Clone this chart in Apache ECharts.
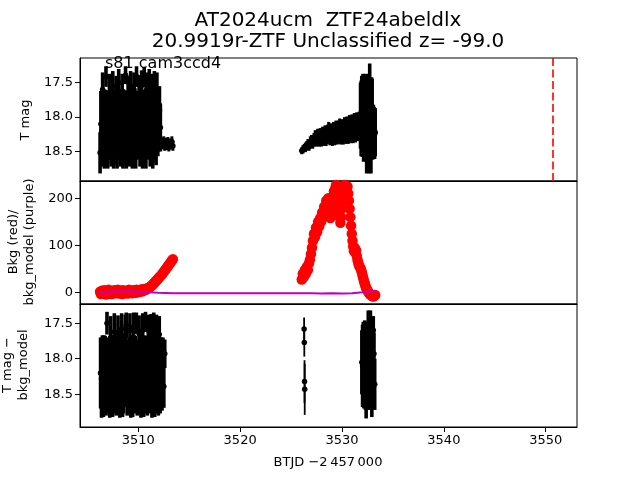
<!DOCTYPE html>
<html><head><meta charset="utf-8">
<script src="https://cdn.jsdelivr.net/npm/echarts@6/dist/echarts.min.js"></script>
<style>html,body{margin:0;padding:0;background:#fff}#c{width:640px;height:480px}</style>
</head><body><div id="c"></div><script>
// ---------- Panel 1: T mag ----------
const tA = [3506.25,3506.33,3506.42,3506.50,3506.58,3506.67,3506.75,3506.83,3506.92,3507.00,3507.08,3507.17,3507.25,3507.33,3507.42,3507.50,3507.58,3507.67,3507.75,3507.83,3507.92,3508.00,3508.08,3508.17,3508.25,3508.33,3508.42,3508.50,3508.58,3508.67,3508.75,3508.83,3508.92,3509.00,3509.08,3509.17,3509.25,3509.33,3509.42,3509.50,3509.58,3509.67,3509.75,3509.83,3509.92,3510.00,3510.08,3510.17,3510.25,3510.33,3510.42,3510.50,3510.58,3510.67,3510.75,3510.83,3510.92,3511.00,3511.08,3511.17,3511.25,3511.33,3511.42,3511.50,3511.58,3511.67,3511.75,3511.83,3511.92,3512.00,3512.08,3512.17];
const mA = [18.52,18.10,18.20,17.60,18.05,18.25,18.15,17.41,18.08,18.22,18.12,17.65,18.10,18.20,18.05,17.55,18.25,18.15,18.08,17.70,18.22,18.12,17.50,18.10,18.20,18.05,17.62,18.25,18.15,18.08,17.39,18.22,18.12,17.68,18.10,18.20,17.55,18.05,18.25,18.15,17.60,18.08,18.22,17.41,18.12,18.10,17.65,18.20,18.05,17.52,18.25,18.15,17.42,18.08,18.22,17.60,18.12,18.10,17.50,18.20,18.05,17.62,18.25,18.15,17.55,18.08,18.22,17.60,18.12,18.10,17.90,18.15];
const eA = [0.30,0.48,0.52,0.25,0.45,0.50,0.55,0.15,0.47,0.53,0.50,0.28,0.48,0.52,0.45,0.22,0.50,0.55,0.47,0.30,0.53,0.50,0.20,0.48,0.52,0.45,0.25,0.50,0.55,0.47,0.13,0.53,0.50,0.28,0.48,0.52,0.22,0.45,0.50,0.55,0.25,0.47,0.53,0.15,0.50,0.48,0.26,0.52,0.45,0.20,0.50,0.55,0.15,0.47,0.53,0.25,0.50,0.48,0.20,0.52,0.45,0.25,0.50,0.50,0.22,0.45,0.48,0.25,0.45,0.40,0.35,0.35];
const tB = [3512.30,3512.40,3512.50,3512.60,3512.70,3512.80,3512.90,3513.00,3513.10,3513.20,3513.30,3513.40];
const mB = [18.38,18.40,18.36,18.42,18.38,18.41,18.37,18.43,18.39,18.40,18.36,18.42];
const eB = [0.08,0.07,0.08,0.07,0.08,0.07,0.08,0.07,0.08,0.07,0.08,0.07];
const tC = [3526.05,3526.17,3526.29,3526.41,3526.53,3526.65,3526.77,3526.89,3527.01,3527.13,3527.25,3527.37,3527.49,3527.61,3527.73,3527.85,3527.97,3528.09,3528.21,3528.33,3528.45,3528.57,3528.69,3528.81,3528.93,3529.05,3529.17,3529.29,3529.41,3529.53,3529.65,3529.77,3529.89,3530.01,3530.13,3530.25,3530.37,3530.49,3530.61,3530.73,3530.85,3530.97,3531.09,3531.21,3531.33,3531.45,3531.57,3531.69];
const mC = [18.49,18.47,18.45,18.44,18.42,18.40,18.41,18.37,18.35,18.36,18.33,18.30,18.32,18.29,18.31,18.28,18.30,18.27,18.29,18.26,18.28,18.25,18.22,18.26,18.24,18.27,18.23,18.25,18.21,18.24,18.22,18.19,18.23,18.20,18.22,18.18,18.21,18.17,18.20,18.16,18.19,18.15,18.18,18.14,18.17,18.13,18.15,18.12];
const eC = [0.05,0.06,0.06,0.07,0.07,0.08,0.08,0.09,0.09,0.10,0.10,0.11,0.11,0.12,0.12,0.12,0.13,0.13,0.13,0.14,0.14,0.14,0.15,0.15,0.15,0.15,0.16,0.16,0.16,0.16,0.17,0.17,0.17,0.17,0.18,0.18,0.18,0.18,0.19,0.19,0.19,0.19,0.20,0.20,0.20,0.20,0.20,0.20];
const tD = [3531.82,3531.88,3531.94,3532.00,3532.06,3532.12,3532.18,3532.24,3532.30,3532.36,3532.42,3532.48,3532.54,3532.60,3532.66,3532.72,3532.78,3532.84,3532.90,3532.96,3533.02,3533.08,3533.14,3533.20,3533.26];
const mD = [17.98,18.02,17.95,18.00,17.92,18.05,17.98,18.02,17.95,18.05,18.30,17.98,18.02,17.95,18.32,17.70,18.05,18.28,17.98,18.02,18.22,18.20,18.22,18.25,18.22];
const eD = [0.48,0.55,0.55,0.58,0.55,0.60,0.58,0.56,0.58,0.60,0.52,0.58,0.56,0.58,0.50,0.48,0.58,0.54,0.56,0.58,0.40,0.38,0.37,0.36,0.35];
const vlineT = 3550.66;

// ---------- Panel 2: background ----------
const bkgA = [2,-3,4,0,-2,5,1,-4,3,0,6,-1,2,-3,4,1,-2,5,0,3,-1,6,2,-2,4,1,-3,5,0,2,-1,4,3,-2,6,1,0,3,-1,5,2,4,0,6,3,1,5,2,4,7,3,6,5,8,6,9,9,10,11,12,14,15,17,19,21,23,25,27,29,31,33,35];
const bkgB = [38,41,44,47,50,53,56,59,62,65,68,71];
const tBkgC = [3526.05,3526.15,3526.25,3526.35,3526.45,3526.55,3526.65,3526.75,3526.85,3526.95,3527.05,3527.15,3527.25,3527.35,3527.45,3527.55,3527.65,3527.75,3527.85,3527.95,3528.05,3528.15,3528.25,3528.35,3528.45,3528.55,3528.65,3528.72,3528.79,3528.86,3528.93,3529.00,3529.07,3529.14,3529.21,3529.28,3529.35,3529.42,3529.49,3529.56,3529.63,3529.70,3529.77,3529.84,3529.91,3529.98,3530.05,3530.12,3530.19,3530.26,3530.33,3530.40,3530.47,3530.54,3530.61,3530.68,3530.75,3530.82,3530.89,3530.96,3531.03,3531.10,3531.17,3531.24,3531.31,3531.38,3531.45,3531.52,3531.59,3531.66,3531.73];
const bkgC = [28,40,33,48,40,55,48,62,70,82,95,110,125,118,138,128,150,140,158,150,170,160,182,172,195,185,200,185,170,158,165,180,195,205,215,210,222,228,220,205,190,175,160,148,160,178,195,210,222,228,218,226,215,225,210,195,178,160,142,125,110,98,88,95,85,90,78,70,64,58,55];
const bkgD = [52,48,44,38,33,28,23,19,15,11,8,5,3,1,-1,-3,-4,-5,-6,-7,-7,-8,-7,-6,-5];
const modelT = [3506.25,3507.0,3508.0,3509.0,3510.0,3511.0,3512.0,3513.4,3526.05,3527.0,3528.0,3529.0,3530.0,3531.0,3532.0,3532.8,3533.26];
const modelV = [1,2,3,3,2,1,0,-1,-1,-1,-2,-1,-2,-1,1,3,4];

// ---------- Panel 3: T mag - bkg_model ----------
const t3A = [3506.30,3506.39,3506.48,3506.57,3506.66,3506.75,3506.84,3506.93,3507.02,3507.11,3507.20,3507.29,3507.38,3507.47,3507.56,3507.65,3507.74,3507.83,3507.92,3508.01,3508.10,3508.19,3508.28,3508.37,3508.46,3508.55,3508.64,3508.73,3508.82,3508.91,3509.00,3509.09,3509.18,3509.27,3509.36,3509.45,3509.54,3509.63,3509.72,3509.81,3509.90,3509.99,3510.08,3510.17,3510.26,3510.35,3510.44,3510.53,3510.62,3510.71,3510.80,3510.89,3510.98,3511.07,3511.16,3511.25,3511.34,3511.43,3511.52,3511.61,3511.70,3511.79,3511.88,3511.97,3512.06,3512.15,3512.24,3512.33,3512.42,3512.51,3512.60];
const m3A = [18.20,18.28,18.15,18.32,18.22,18.18,18.30,17.50,18.25,18.20,18.28,17.70,18.15,18.32,18.22,17.62,18.18,18.30,18.25,17.64,18.20,18.28,18.15,17.58,18.32,18.22,18.18,17.66,17.53,18.30,18.25,18.20,17.60,18.28,18.15,18.32,17.55,18.22,18.18,17.50,18.30,18.25,17.65,18.20,18.28,18.15,17.60,18.32,18.22,17.48,18.18,18.30,17.60,18.25,18.20,17.62,18.28,18.15,17.55,18.32,18.22,17.60,18.18,18.30,17.66,18.25,18.20,18.28,18.10,18.39,17.93];
const e3A = [0.50,0.55,0.48,0.50,0.55,0.50,0.50,0.16,0.52,0.50,0.55,0.30,0.48,0.50,0.55,0.26,0.50,0.50,0.52,0.25,0.50,0.55,0.48,0.22,0.50,0.55,0.50,0.28,0.18,0.50,0.52,0.50,0.24,0.55,0.48,0.50,0.20,0.55,0.50,0.15,0.50,0.52,0.26,0.50,0.55,0.48,0.24,0.50,0.55,0.14,0.50,0.50,0.22,0.52,0.50,0.25,0.55,0.48,0.20,0.50,0.55,0.22,0.50,0.50,0.26,0.52,0.50,0.45,0.40,0.30,0.20];
const t3M = [3526.28,3526.30,3526.32,3526.34];
const m3M = [17.58,17.77,18.32,18.43];
const e3M = [0.16,0.20,0.30,0.36];
const t3D = [3531.95,3532.02,3532.09,3532.16,3532.23,3532.30,3532.37,3532.44,3532.51,3532.58,3532.65,3532.72,3532.79,3532.86,3532.93,3533.00,3533.07,3533.14,3533.21];
const m3D = [18.05,18.10,18.08,18.12,18.06,18.10,18.30,18.08,18.12,17.90,18.10,18.08,17.46,18.12,18.30,18.10,17.60,17.93,18.36];
const e3D = [0.45,0.58,0.60,0.58,0.60,0.62,0.54,0.60,0.58,0.58,0.62,0.60,0.14,0.58,0.52,0.55,0.20,0.30,0.36];

// ---------- Axis settings ----------
const xTicks = [3510,3520,3530,3540,3550];
const magTicks = [17.5,18.0,18.5];
const bkgTicks = [0,100,200];
const X_MIN = 3504.28, X_MAX = 3553.07;
const Y1 = [17.14, 18.93], Y2 = [-24, 236.6], Y3 = [17.23, 18.96];

const FONT = '"DejaVu Sans", Verdana, sans-serif';
function zip3(t, m, e){ return t.map((v,i)=>[v, m[i], e[i]]); }
function zip2(t, m){ return t.map((v,i)=>[v, m[i]]); }

const chart = echarts.init(document.getElementById('c'), null, {renderer:'canvas'});

function xAx(i){
  return {type:'value', gridIndex:i, min:X_MIN, max:X_MAX,
    axisLine:{show:true, onZero:false, lineStyle:{color:'#000', width:1}},
    splitLine:{show:false},
    axisTick:{show:i===2, customValues:xTicks, length:5, lineStyle:{color:'#000', width:1}},
    axisLabel:{show:i===2, customValues:xTicks, color:'#000', fontSize:13, fontFamily:FONT, margin:7,
      formatter:v => String(Math.round(v))}};
}
function yAx(i, r, ticks, inv, fmt){
  return {type:'value', gridIndex:i, min:r[0], max:r[1], inverse:inv,
    axisLine:{show:true, onZero:false, lineStyle:{color:'#000', width:1}},
    splitLine:{show:false},
    axisTick:{show:true, customValues:ticks, length:5, lineStyle:{color:'#000', width:1}},
    axisLabel:{show:true, customValues:ticks, color:'#000', fontSize:13, fontFamily:FONT, margin:7, formatter:fmt}};
}
function errSeries(ax, data, w){
  return {type:'custom', xAxisIndex:ax, yAxisIndex:ax, data:data, clip:true, z:2,
    encode:{x:0, y:1}, progressive:0,
    renderItem:function(params, api){
      const x = api.value(0), y = api.value(1), e = api.value(2);
      const p1 = api.coord([x, y - e]), p2 = api.coord([x, y + e]);
      return {type:'rect', shape:{x:p1[0] - w/2, y:Math.min(p1[1], p2[1]), width:w, height:Math.abs(p2[1] - p1[1])},
        style:{fill:'#000'}};
    }};
}
function dotSeries(ax, data){
  return {type:'scatter', xAxisIndex:ax, yAxisIndex:ax, data:data.map(d=>[d[0], d[1]]),
    symbol:'circle', symbolSize:5.5, itemStyle:{color:'#000', opacity:1}, z:3, clip:true, silent:true};
}

const dense1 = zip3(tA,mA,eA).concat(zip3(tD,mD,eD));
const band1 = zip3(tB,mB,eB).concat(zip3(tC,mC,eC));
const dense3 = zip3(t3A,m3A,e3A).concat(zip3(t3D,m3D,e3D));
const sparse3 = zip3(t3M,m3M,e3M);
const bkg = zip2(tA,bkgA).concat(zip2(tB,bkgB), zip2(tBkgC,bkgC), zip2(tD,bkgD));

const fmtMag = v => v.toFixed(1);
const fmtInt = v => String(Math.round(v));

const gridBase = {left:80, width:497, height:123, show:true, borderColor:'#000', borderWidth:1, backgroundColor:'transparent'};

chart.setOption({
  animation:false,
  backgroundColor:'#fff',
  grid:[Object.assign({top:58}, gridBase), Object.assign({top:181}, gridBase), Object.assign({top:304}, gridBase)],
  xAxis:[xAx(0), xAx(1), xAx(2)],
  yAxis:[yAx(0, Y1, magTicks, true, fmtMag), yAx(1, Y2, bkgTicks, false, fmtInt), yAx(2, Y3, magTicks, true, fmtMag)],
  series:[
    errSeries(0, dense1, 3.6),
    errSeries(0, band1, 3.0),
    dotSeries(0, dense1.concat(band1)),
    {type:'line', xAxisIndex:0, yAxisIndex:0, data:[], silent:true,
      markLine:{silent:true, symbol:'none', label:{show:false},
        lineStyle:{color:'#ff0000', type:[8,3.5], width:1.6},
        data:[{xAxis:vlineT}]}},
    {type:'scatter', xAxisIndex:1, yAxisIndex:1, data:bkg, symbol:'circle', symbolSize:10.5,
      itemStyle:{color:'#ff0000', opacity:1}, z:2, silent:true},
    {type:'line', xAxisIndex:1, yAxisIndex:1, data:zip2(modelT, modelV), showSymbol:false,
      lineStyle:{color:'#bf00bf', width:2}, z:4, silent:true},
    errSeries(2, dense3, 3.6),
    errSeries(2, sparse3, 1.8),
    dotSeries(2, dense3.concat(sparse3))
  ],
  graphic:[
    {type:'text', x:328, y:21, style:{text:'AT2024ucm  ZTF24abeldlx', fontSize:20, fontFamily:FONT, fill:'#000', align:'center', verticalAlign:'middle'}},
    {type:'text', x:328, y:42, style:{text:'20.9919r-ZTF Unclassified z= -99.0', fontSize:20, fontFamily:FONT, fill:'#000', align:'center', verticalAlign:'middle'}},
    {type:'text', x:105, y:64, z:10, style:{text:'s81 cam3ccd4', fontSize:16, fontFamily:FONT, fill:'#000', align:'left', verticalAlign:'middle'}},
    {type:'text', x:26, y:120, rotation:Math.PI/2, style:{text:'T mag', fontSize:13, fontFamily:FONT, fill:'#000', align:'center', verticalAlign:'middle'}},
    {type:'text', x:14, y:242, rotation:Math.PI/2, style:{text:'Bkg (red)/', fontSize:13, fontFamily:FONT, fill:'#000', align:'center', verticalAlign:'middle'}},
    {type:'text', x:30, y:242, rotation:Math.PI/2, style:{text:'bkg_model (purple)', fontSize:13, fontFamily:FONT, fill:'#000', align:'center', verticalAlign:'middle'}},
    {type:'text', x:8, y:365, rotation:Math.PI/2, style:{text:'T mag \u2212', fontSize:13, fontFamily:FONT, fill:'#000', align:'center', verticalAlign:'middle'}},
    {type:'text', x:24, y:365, rotation:Math.PI/2, style:{text:'bkg_model', fontSize:13, fontFamily:FONT, fill:'#000', align:'center', verticalAlign:'middle'}},
    {type:'text', x:328, y:463, style:{text:'BTJD \u22122\u2009457\u2009000', fontSize:13, fontFamily:FONT, fill:'#000', align:'center', verticalAlign:'middle'}}
  ]
});
</script></body></html>
